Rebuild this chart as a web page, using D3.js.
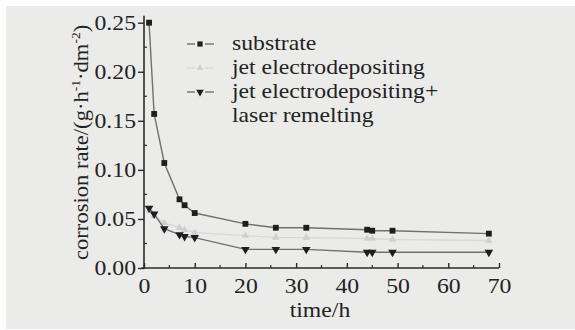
<!DOCTYPE html>
<html>
<head>
<meta charset="utf-8">
<script src="https://cdn.jsdelivr.net/npm/d3@7"></script>
<style>
    body { margin: 0; background: #fff; }
    svg { display: block; }
    text { font-family: "Liberation Serif", "Times New Roman", serif; fill: #232323; }
</style>
</head>
<body>
<svg id="chart" width="575" height="330"></svg>
<script>
let hours = [1, 2, 4, 7, 8, 10, 20, 26, 32, 44, 45, 49, 68];
let substrate = [0.250, 0.157, 0.107, 0.070, 0.064, 0.056, 0.045, 0.041, 0.041, 0.039, 0.038, 0.038, 0.035];
let jetDeposit = [0.058, 0.053, 0.046, 0.041, 0.039, 0.036, 0.033, 0.031, 0.031, 0.030, 0.030, 0.029, 0.028];
let jetLaser = [0.061, 0.055, 0.040, 0.034, 0.032, 0.031, 0.019, 0.019, 0.019, 0.016, 0.016, 0.016, 0.016];
let xTicks = [0, 10, 20, 30, 40, 50, 60, 70];
let yTicks = [0.00, 0.05, 0.10, 0.15, 0.20, 0.25];
let legendNames = ['substrate', 'jet electrodepositing', 'jet electrodepositing+', 'laser remelting'];

let svg = d3.select('#chart');

// grey photo background with a thin white margin top/left
svg.append('rect')
    .attr('x', 6).attr('y', 6)
    .attr('width', 569).attr('height', 323)
    .attr('fill', '#ebebea');

let x = d3.scaleLinear().domain([0, 70]).range([144, 499]);
let y = d3.scaleLinear().domain([0, 0.25]).range([268, 22.7]);

let axisColor = '#2b2b2b';
let stretch = 1.13;

function widen(sel, ax) {
    // reference lettering is wider than the font, stretch it round its anchor
    sel.each(function () {
        let t = d3.select(this);
        let ox = +t.attr('x') || 0;
        let oy = +t.attr('y') || 0;
        t.attr('transform', 'translate(' + (ox + ax) + ',' + oy + ') scale(' + stretch + ',1) translate(' + (-ox - ax) + ',' + (-oy) + ')');
    });
}

// y axis
let gy = svg.append('g').attr('transform', 'translate(144,0)');
gy.append('line')
    .attr('x1', 0).attr('x2', 0)
    .attr('y1', y(0) + 1).attr('y2', y(0.257))
    .attr('stroke', axisColor).attr('stroke-width', 1.6);
gy.call(d3.axisLeft(y).tickValues(yTicks).tickFormat(d3.format('.2f')).tickSize(6).tickPadding(2))
    .call(g => g.select('.domain').remove());
gy.selectAll('.tick line').attr('stroke', axisColor).attr('stroke-width', 1.4);
gy.selectAll('.tick text')
    .attr('font-size', 21)
    .attr('font-family', '"Liberation Serif", serif')
    .style('fill', '#232323')
    .attr('transform', 'scale(' + stretch + ',1)')
    .attr('x', -8 / stretch);
gy.selectAll('.minor').data(d3.range(0.025, 0.25, 0.05)).enter()
    .append('line')
    .attr('x1', 0).attr('x2', 3)
    .attr('y1', d => y(d)).attr('y2', d => y(d))
    .attr('stroke', axisColor).attr('stroke-width', 1.2);

// x axis
let gx = svg.append('g').attr('transform', 'translate(0,' + y(0) + ')');
gx.append('line')
    .attr('x1', x(-0.5)).attr('x2', x(70))
    .attr('y1', 0).attr('y2', 0)
    .attr('stroke', axisColor).attr('stroke-width', 1.6);
gx.call(d3.axisBottom(x).tickValues(xTicks).tickSize(-5).tickPadding(10))
    .call(g => g.select('.domain').remove());
gx.selectAll('.tick line').attr('stroke', axisColor).attr('stroke-width', 1.4);
gx.selectAll('.tick text')
    .attr('font-size', 21)
    .attr('font-family', '"Liberation Serif", serif')
    .style('fill', '#232323')
    .attr('transform', 'scale(' + stretch + ',1)');
gx.selectAll('.minor').data(d3.range(5, 70, 10)).enter()
    .append('line')
    .attr('x1', d => x(d)).attr('x2', d => x(d))
    .attr('y1', 0).attr('y2', -3)
    .attr('stroke', axisColor).attr('stroke-width', 1.2);

// axis titles
let yt = svg.append('text')
    .attr('transform', 'translate(88,' + ((y(0) + y(0.25)) / 2 - 3) + ') rotate(-90) scale(' + stretch + ',1)')
    .attr('text-anchor', 'middle')
    .attr('font-size', 20);
yt.append('tspan').text('corrosion rate/(g·h');
yt.append('tspan').attr('font-size', 12).attr('dy', -8).text('-1');
yt.append('tspan').attr('dy', 8).text('·dm');
yt.append('tspan').attr('font-size', 12).attr('dy', -8).text('-2');
yt.append('tspan').attr('dy', 8).text(')');

svg.append('text')
    .attr('x', 320).attr('y', 317)
    .attr('text-anchor', 'middle')
    .attr('font-size', 21)
    .text('time/h')
    .call(widen, 0);

// series
let series = [
    {values: substrate, color: '#707070', mark: '#1e1e1e', symbol: d3.symbolSquare, size: 34, rot: 0},
    {values: jetDeposit, color: '#d8d8d8', mark: '#cfcfcf', symbol: d3.symbolTriangle, size: 24, rot: 0},
    {values: jetLaser, color: '#707070', mark: '#1e1e1e', symbol: d3.symbolTriangle, size: 32, rot: 180}
];

let line = d3.line()
    .x(d => x(d[0]))
    .y(d => y(d[1]));

series.forEach(s => {
    let pts = hours.map((h, i) => [h, s.values[i]]);
    svg.append('path')
        .datum(pts)
        .attr('d', line)
        .attr('fill', 'none')
        .attr('stroke', s.color)
        .attr('stroke-width', 1.4);
    svg.append('g').selectAll('path')
        .data(pts).enter()
        .append('path')
        .attr('d', d3.symbol().type(s.symbol).size(s.size))
        .attr('transform', d => 'translate(' + x(d[0]) + ',' + y(d[1]) + ') rotate(' + s.rot + ')')
        .attr('fill', s.mark);
});

// legend
let legendY = [44, 68, 92, 116];
series.forEach((s, i) => {
    let cy = legendY[i];
    let g = svg.append('g');
    g.append('line').attr('x1', 187).attr('x2', 195).attr('y1', cy).attr('y2', cy)
        .attr('stroke', s.color).attr('stroke-width', 1.4);
    g.append('line').attr('x1', 205).attr('x2', 214).attr('y1', cy).attr('y2', cy)
        .attr('stroke', s.color).attr('stroke-width', 1.4);
    g.append('path')
        .attr('d', d3.symbol().type(s.symbol).size(s.size * 0.8))
        .attr('transform', 'translate(200,' + cy + ') rotate(' + s.rot + ')')
        .attr('fill', s.mark);
});
legendNames.forEach((n, i) => {
    svg.append('text')
        .attr('x', 232).attr('y', legendY[i] + 6)
        .attr('font-size', 21)
        .text(n)
        .call(widen, 0);
});
</script>
</body>
</html>
